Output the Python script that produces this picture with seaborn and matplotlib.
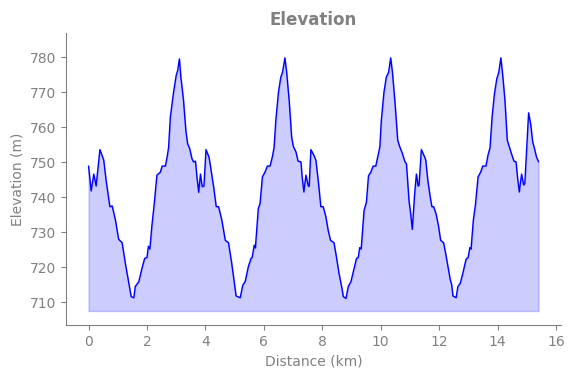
import numpy as np
import pandas as pd
import seaborn as sns
import matplotlib
matplotlib.use("Agg")
import matplotlib.pyplot as plt

# distance (km) and elevation (m)
distance = [
    0.00, 0.09, 0.18, 0.26, 0.39, 0.48, 0.52, 0.60, 0.73, 0.81, 0.92, 1.03, 1.15, 1.26, 1.38,
    1.46, 1.55, 1.60, 1.72, 1.83, 1.92, 2.00, 2.05, 2.10, 2.17, 2.25, 2.34, 2.46, 2.52, 2.63,
    2.69, 2.74, 2.80, 2.91, 3.00, 3.05, 3.11, 3.16, 3.25, 3.33, 3.39, 3.46, 3.54, 3.59, 3.66,
    3.71, 3.77, 3.83, 3.89, 3.95, 4.02, 4.12, 4.15, 4.28, 4.37, 4.45, 4.56, 4.68, 4.79, 4.90,
    5.05, 5.19, 5.28, 5.36, 5.47, 5.56, 5.60, 5.67, 5.71, 5.81, 5.87, 5.95, 6.04, 6.12, 6.21,
    6.29, 6.35, 6.41, 6.50, 6.58, 6.64, 6.72, 6.78, 6.87, 6.95, 7.01, 7.10, 7.17, 7.27, 7.31,
    7.37, 7.44, 7.52, 7.55, 7.61, 7.71, 7.78, 7.87, 7.95, 8.03, 8.12, 8.20, 8.28, 8.40, 8.49,
    8.57, 8.66, 8.72, 8.81, 8.89, 8.98, 9.09, 9.17, 9.23, 9.28, 9.33, 9.43, 9.51, 9.58, 9.66,
    9.74, 9.83, 9.91, 9.97, 10.02, 10.11, 10.19, 10.27, 10.34, 10.40, 10.49, 10.58, 10.65,
    10.74, 10.82, 10.88, 10.97, 11.01, 11.08, 11.16, 11.22, 11.28, 11.31, 11.39, 11.50, 11.54,
    11.61, 11.69, 11.75, 11.81, 11.90, 11.98, 12.05, 12.15, 12.22, 12.30, 12.38, 12.43, 12.47,
    12.52, 12.58, 12.64, 12.72, 12.81, 12.92, 12.99, 13.05, 13.09, 13.17, 13.24, 13.33, 13.42,
    13.49, 13.60, 13.67, 13.74, 13.81, 13.89, 13.97, 14.04, 14.11, 14.17, 14.25, 14.33, 14.40,
    14.47, 14.56, 14.63, 14.68, 14.74, 14.82, 14.89, 14.93, 15.06, 15.13, 15.20, 15.26, 15.33,
    15.40,
]
elevation = [
    748.9, 741.8, 746.6, 743.2, 753.6, 751.5, 750.6, 744.9, 737.3, 737.5, 733.5, 728.0, 727.0, 721.1, 715.4,
    711.6, 711.3, 714.5, 715.9, 719.7, 722.5, 722.8, 726.0, 725.2, 732.0, 738.2, 746.3, 747.2, 748.9, 748.9,
    751.5, 754.2, 762.9, 770.0, 774.8, 776.2, 779.5, 774.3, 767.7, 759.1, 755.3, 753.9, 751.0, 750.1, 750.3,
    745.8, 741.4, 746.6, 743.0, 743.2, 753.6, 751.5, 750.1, 743.0, 737.3, 737.3, 733.5, 727.7, 727.0, 721.1,
    711.8, 711.3, 714.9, 715.9, 720.2, 722.5, 722.8, 726.3, 725.5, 736.8, 738.2, 745.8, 747.2, 748.9, 748.9,
    751.5, 754.2, 762.0, 770.0, 774.3, 775.7, 779.8, 775.7, 767.2, 757.2, 754.5, 752.9, 750.3, 750.1, 745.8,
    741.5, 746.3, 743.2, 743.1, 753.6, 752.0, 750.6, 744.0, 737.3, 737.3, 734.5, 730.6, 727.7, 727.0, 722.6,
    718.3, 714.5, 711.6, 711.1, 714.5, 715.9, 719.7, 722.5, 722.8, 725.6, 725.2, 736.3, 738.6, 746.1, 747.2,
    748.9, 748.9, 752.0, 754.4, 762.0, 770.0, 774.3, 775.7, 779.8, 775.7, 766.8, 756.3, 754.4,
    752.5, 750.3, 749.5, 738.7, 736.3, 730.8, 741.0, 746.6, 743.2, 743.4, 753.6, 751.5, 750.6,
    744.9, 740.2, 737.3, 737.3, 735.0, 731.6, 727.7, 727.0, 724.0, 720.2, 716.4, 714.9, 711.8,
    711.6, 711.3, 714.5, 715.4, 718.3, 722.3, 722.8, 725.6, 725.2, 733.6, 737.8, 745.8, 747.2,
    748.9, 748.9, 752.0, 754.2, 762.9, 769.5, 773.8, 775.7, 779.8, 775.2, 767.7, 756.3, 754.4,
    752.5, 750.3, 750.1, 745.8, 741.5, 746.6, 743.5, 743.9, 764.1, 760.9, 755.8, 753.9, 751.5,
    750.1,
]
baseline = 707.5

df = pd.DataFrame({"Distance (km)": distance, "Elevation (m)": elevation})

sns.set_style("ticks")
plt.rcParams["font.family"] = ["DejaVu Sans"]

fig = plt.figure(figsize=(5.75, 3.78), dpi=100)
ax = fig.add_axes([0.1148, 0.1402, 0.8609, 0.7725])

ax.fill_between(df["Distance (km)"], df["Elevation (m)"], baseline, color="blue", alpha=0.2)
sns.lineplot(data=df, x="Distance (km)", y="Elevation (m)", color="blue", linewidth=1, ax=ax)

ax.set_ylim(703.5, 786.9)
ax.set_yticks(np.arange(710, 781, 10))
ax.set_xticks(np.arange(0, 17, 2))
ax.set_title("Elevation", color="grey", fontweight="bold", fontsize=12)
ax.set_xlabel("Distance (km)", color="grey")
ax.set_ylabel("Elevation (m)", color="grey")
ax.tick_params(colors="grey", labelcolor="grey")
for s in ["left", "bottom"]:
    ax.spines[s].set_color("grey")
sns.despine(ax=ax)

fig.savefig("out.png", dpi=100)
